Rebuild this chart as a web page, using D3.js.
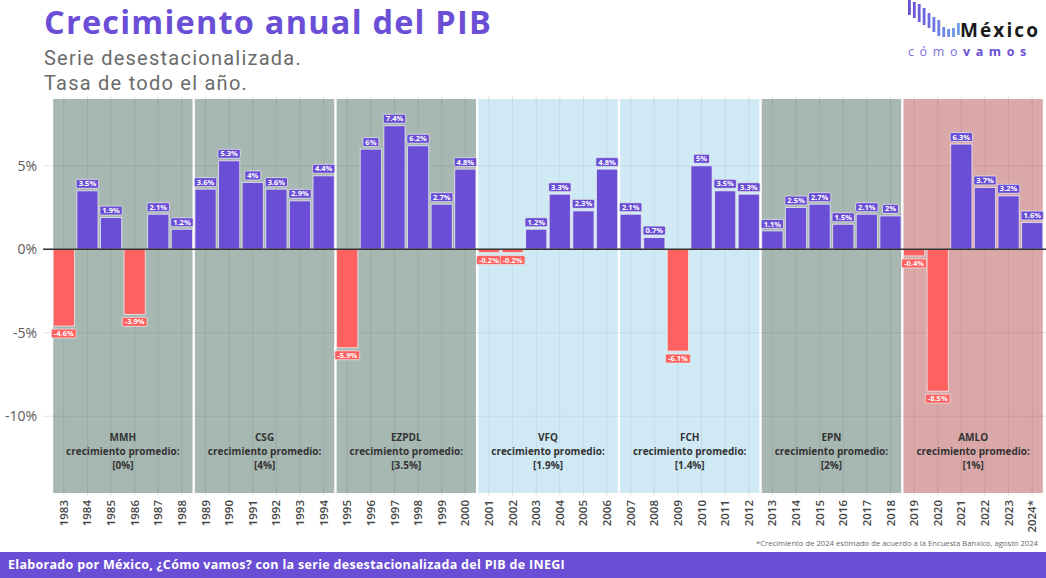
<!DOCTYPE html>
<html>
<head>
<meta charset="utf-8">
<script src="https://cdn.jsdelivr.net/npm/d3@7"></script>
<style>
  body { margin: 0; background: #fff; }
  svg { display: block; font-family: "Open Sans", "Noto Sans", sans-serif; }
</style>
</head>
<body>
<script>
// data
var years = [1983,1984,1985,1986,1987,1988,1989,1990,1991,1992,1993,1994,1995,1996,1997,1998,1999,2000,
             2001,2002,2003,2004,2005,2006,2007,2008,2009,2010,2011,2012,2013,2014,2015,2016,2017,2018,
             2019,2020,2021,2022,2023,2024];
var yearLabels = years.map(function(y) { return y === 2024 ? "2024*" : String(y); });
var growth = [-4.6,3.5,1.9,-3.9,2.1,1.2,3.6,5.3,4,3.6,2.9,4.4,-5.9,6,7.4,6.2,2.7,4.8,
              -0.2,-0.2,1.2,3.3,2.3,4.8,2.1,0.7,-6.1,5,3.5,3.3,1.1,2.5,2.7,1.5,2.1,2,
              -0.4,-8.5,6.3,3.7,3.2,1.6];

var sexNames = ["MMH","CSG","EZPDL","VFQ","FCH","EPN","AMLO"];
var sexStart = [1983,1989,1995,2001,2007,2013,2019];
var sexEnd   = [1988,1994,2000,2006,2012,2018,2024];
var sexAvg   = ["0%","4%","3.5%","1.9%","1.4%","2%","1%"];
var sexParty = ["PRI","PRI","PRI","PAN","PAN","PRI","MORENA"];

var yTicks = [5, 0, -5, -10];

// logo staircase (top / bottom of each little bar)
var logoTop = [0, 2, 4, 8, 13, 17, 20, 27, 29, 28, 23];
var logoBot = [15, 18, 22, 25, 28, 32, 36, 37, 37, 37, 35];

var partyCol = { PRI: "#4f6f65", PAN: "#9fd3eb", MORENA: "#b55151" };
var purple = "#6a4fd6", red = "#ff6060";

var w = 1046, h = 578;

var svg = d3.select("body").append("svg")
    .attr("width", w)
    .attr("height", h);

// stretch a text to a target width with letter spacing
function fitSpacing(t, target) {
  var cur = t.node().getComputedTextLength();
  var n = t.text().length;
  t.style("letter-spacing", ((target - cur) / n) + "px");
}

// scales
var x = d3.scaleBand()
    .domain(years)
    .range([52, 1044])
    .paddingInner(0.1)
    .paddingOuter(0.05);

var y = d3.scaleLinear()
    .domain([-14.6, 9])
    .range([493, 99]);

var panelL = 43, panelR = 1046, panelT = 96, panelB = 496;

// grid
svg.append("g").selectAll("line")
  .data(years).enter().append("line")
    .attr("x1", function(d) { return x(d) + x.bandwidth() / 2; })
    .attr("x2", function(d) { return x(d) + x.bandwidth() / 2; })
    .attr("y1", panelT)
    .attr("y2", panelB)
    .attr("stroke", "#e3e3e3")
    .attr("stroke-width", 1);

svg.append("g").selectAll("line")
  .data(yTicks).enter().append("line")
    .attr("x1", panelL)
    .attr("x2", panelR)
    .attr("y1", function(d) { return y(d); })
    .attr("y2", function(d) { return y(d); })
    .attr("stroke", "#e3e3e3")
    .attr("stroke-width", 1);

// sexenio background blocks
var sexIdx = d3.range(sexNames.length);
svg.append("g").selectAll("rect")
  .data(sexIdx).enter().append("rect")
    .attr("x", function(i) { return x(sexStart[i]); })
    .attr("width", function(i) { return x(sexEnd[i]) + x.bandwidth() - x(sexStart[i]); })
    .attr("y", y(9))
    .attr("height", y(-14.6) - y(9))
    .attr("fill", function(i) { return partyCol[sexParty[i]]; })
    .attr("fill-opacity", 0.5);

// bars
svg.append("g").selectAll("rect")
  .data(years).enter().append("rect")
    .attr("x", function(d) { return x(d); })
    .attr("width", x.bandwidth())
    .attr("y", function(d, i) { return y(Math.max(0, growth[i])); })
    .attr("height", function(d, i) { return Math.abs(y(growth[i]) - y(0)); })
    .attr("fill", function(d, i) { return growth[i] < 0 ? red : purple; })
    .attr("stroke", "#eeeeee")
    .attr("stroke-opacity", 0.8)
    .attr("stroke-width", 1);

// zero line
svg.append("line")
  .attr("x1", panelL)
  .attr("x2", panelR)
  .attr("y1", y(0))
  .attr("y2", y(0))
  .attr("stroke", "#333")
  .attr("stroke-width", 1.6);

// value labels
var lab = svg.append("g").selectAll("g")
  .data(years).enter().append("g")
    .attr("transform", function(d, i) {
      var cx = x(d) + x.bandwidth() / 2;
      var cy = growth[i] < 0 ? y(growth[i]) + 7.5 : y(growth[i]) - 7;
      return "translate(" + cx + "," + cy + ")";
    });

lab.append("text")
  .attr("text-anchor", "middle")
  .attr("dy", "0.35em")
  .style("font-size", "7.5px")
  .style("font-weight", "bold")
  .style("fill", "#fff")
  .text(function(d, i) { return growth[i] + "%"; });

lab.each(function(d, i) {
  var g = d3.select(this);
  var tw = g.select("text").node().getComputedTextLength();
  g.insert("rect", "text")
    .attr("x", -tw / 2 - 2.5)
    .attr("y", -4.5)
    .attr("width", tw + 5)
    .attr("height", 9)
    .attr("rx", 1.5)
    .attr("fill", growth[i] < 0 ? red : purple)
    .attr("stroke", "#e6e6e6")
    .attr("stroke-width", 0.8);
});

// sexenio annotations
var ann = svg.append("g").selectAll("text")
  .data(sexIdx).enter().append("text")
    .attr("text-anchor", "middle")
    .style("font-size", "10px")
    .style("font-weight", "bold")
    .style("fill", "#333");

ann.each(function(i) {
  var t = d3.select(this);
  var cx = (x(sexStart[i]) + x(sexEnd[i]) + x.bandwidth()) / 2;
  var lines = [sexNames[i], "crecimiento promedio:", "[" + sexAvg[i] + "]"];
  lines.forEach(function(s, k) {
    t.append("tspan")
      .attr("x", cx)
      .attr("y", 440.5 + k * 14.3)
      .text(s);
  });
});

// y axis labels
svg.append("g").selectAll("text")
  .data(yTicks).enter().append("text")
    .attr("x", 37)
    .attr("y", function(d) { return y(d); })
    .attr("dy", "0.35em")
    .attr("text-anchor", "end")
    .style("font-size", "14px")
    .style("fill", "#5a5a5a")
    .text(function(d) { return d + "%"; });

// x axis labels
svg.append("g").selectAll("text")
  .data(years).enter().append("text")
    .attr("transform", function(d) {
      return "translate(" + (x(d) + x.bandwidth() / 2) + ",500) rotate(-90)";
    })
    .attr("dy", "0.35em")
    .attr("text-anchor", "end")
    .style("font-size", "11.5px")
    .style("font-weight", "600")
    .style("fill", "#444")
    .text(function(d, i) { return yearLabels[i]; });

// titles
var title = svg.append("text")
  .attr("x", 44)
  .attr("y", 34)
  .style("font-size", "32.5px")
  .style("font-weight", "bold")
  .style("fill", purple)
  .text("Crecimiento anual del PIB");
fitSpacing(title, 448);

var sub1 = svg.append("text")
  .attr("x", 44)
  .attr("y", 65)
  .style("font-family", "Roboto, sans-serif")
  .style("font-size", "20px")
  .style("fill", "#6b6b6b")
  .text("Serie desestacionalizada.");
fitSpacing(sub1, 258);

svg.append("text")
  .attr("x", 44)
  .attr("y", 89.5)
  .style("font-family", "Roboto, sans-serif")
  .style("font-size", "20px")
  .style("letter-spacing", sub1.style("letter-spacing"))
  .style("fill", "#6b6b6b")
  .text("Tasa de todo el año.");

// logo
var logoCol = d3.scaleLinear().domain([0, logoTop.length - 1]).range(["#6a4fd6", "#6f9de6"]);
svg.append("g").selectAll("rect")
  .data(logoTop).enter().append("rect")
    .attr("x", function(d, i) { return 908 + i * 4.9; })
    .attr("y", function(d) { return d; })
    .attr("width", 2.8)
    .attr("height", function(d, i) { return logoBot[i] - d; })
    .attr("fill", function(d, i) { return logoCol(i); });

var mx = svg.append("text")
  .attr("x", 960)
  .attr("y", 37)
  .style("font-size", "19px")
  .style("font-weight", "bold")
  .style("fill", "#1a1a1a")
  .text("México");
fitSpacing(mx, 80);

var cv = svg.append("text")
  .attr("x", 908)
  .attr("y", 56)
  .style("font-size", "12.5px")
  .style("letter-spacing", "5.6px");
cv.append("tspan").style("fill", "#7c6ee0").text("cómo");
cv.append("tspan").style("fill", purple).style("font-weight", "bold").text("vamos");

// footnote
var fn = svg.append("text")
  .attr("x", 1038)
  .attr("y", 546)
  .attr("text-anchor", "end")
  .style("font-size", "7.6px")
  .style("fill", "#666")
  .text("*Crecimiento de 2024 estimado de acuerdo a la Encuesta Banxico, agosto 2024");
fitSpacing(fn, 282);

// footer band
svg.append("rect")
  .attr("x", 0)
  .attr("y", 552)
  .attr("width", w)
  .attr("height", h - 552)
  .attr("fill", purple);

var foot = svg.append("text")
  .attr("x", 8)
  .attr("y", 569)
  .style("font-size", "12.5px")
  .style("font-weight", "bold")
  .style("fill", "#fff")
  .text("Elaborado por México, ¿Cómo vamos? con la serie desestacionalizada del PIB de INEGI");
fitSpacing(foot, 557);
</script>
</body>
</html>
